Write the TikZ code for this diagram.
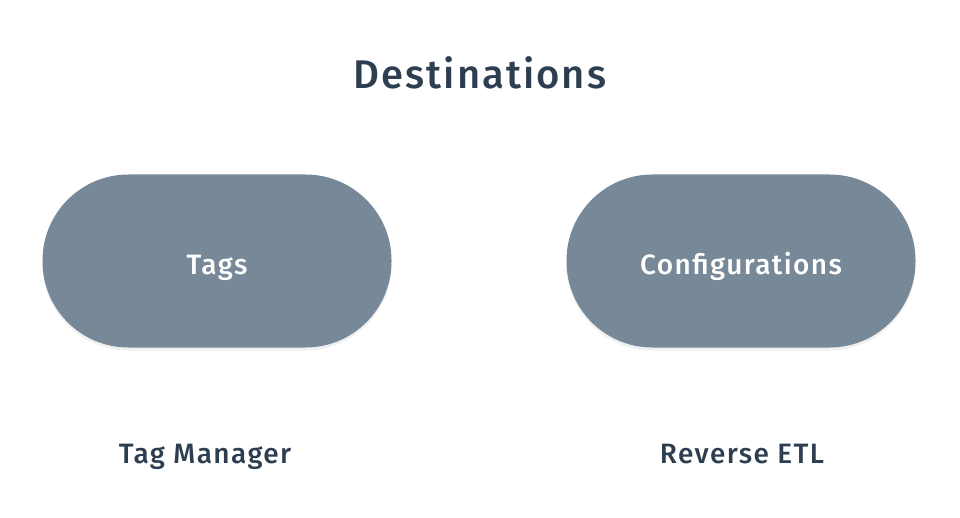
\documentclass[tikz,border=0pt]{standalone}
\usepackage{fontspec}
\setmainfont{Fira Sans}[BoldFont={Fira Sans Medium}, LetterSpace=5]
\usepackage{xcolor}
\usetikzlibrary{shadows}
\definecolor{pillgray}{HTML}{778899}
\definecolor{inkdark}{HTML}{2C3E50}

\begin{document}
\begin{tikzpicture}[x=1pt,y=-1pt,every node/.style={font=\bfseries,align=center}]
  \useasboundingbox (0,0) rectangle (960,518);

  \tikzset{
    pill/.style={fill=pillgray, text=white, minimum width=349pt, minimum height=173pt,
      rounded corners=86pt, inner sep=0pt, text height=28pt, text depth=0pt,
      font=\bfseries\fontsize{28}{32}\selectfont,
      drop shadow={opacity=0.12, shadow xshift=0pt, shadow yshift=-3pt}},
    caption/.style={text=inkdark, anchor=base, font=\bfseries\fontsize{28}{32}\selectfont}
  }

  \node[text=inkdark, anchor=base, font=\bfseries\fontsize{40}{46}\selectfont] (title) at (480,89) {Destinations};

  \node[pill] (tags) at (217,261) {Tags};
  \node[pill] (configs) at (741,261) {Configurations};

  \node[caption] (tagmanager) at (205,463) {Tag Manager};
  \node[caption] (reverseetl) at (742,463) {Reverse ETL};
\end{tikzpicture}
\end{document}
